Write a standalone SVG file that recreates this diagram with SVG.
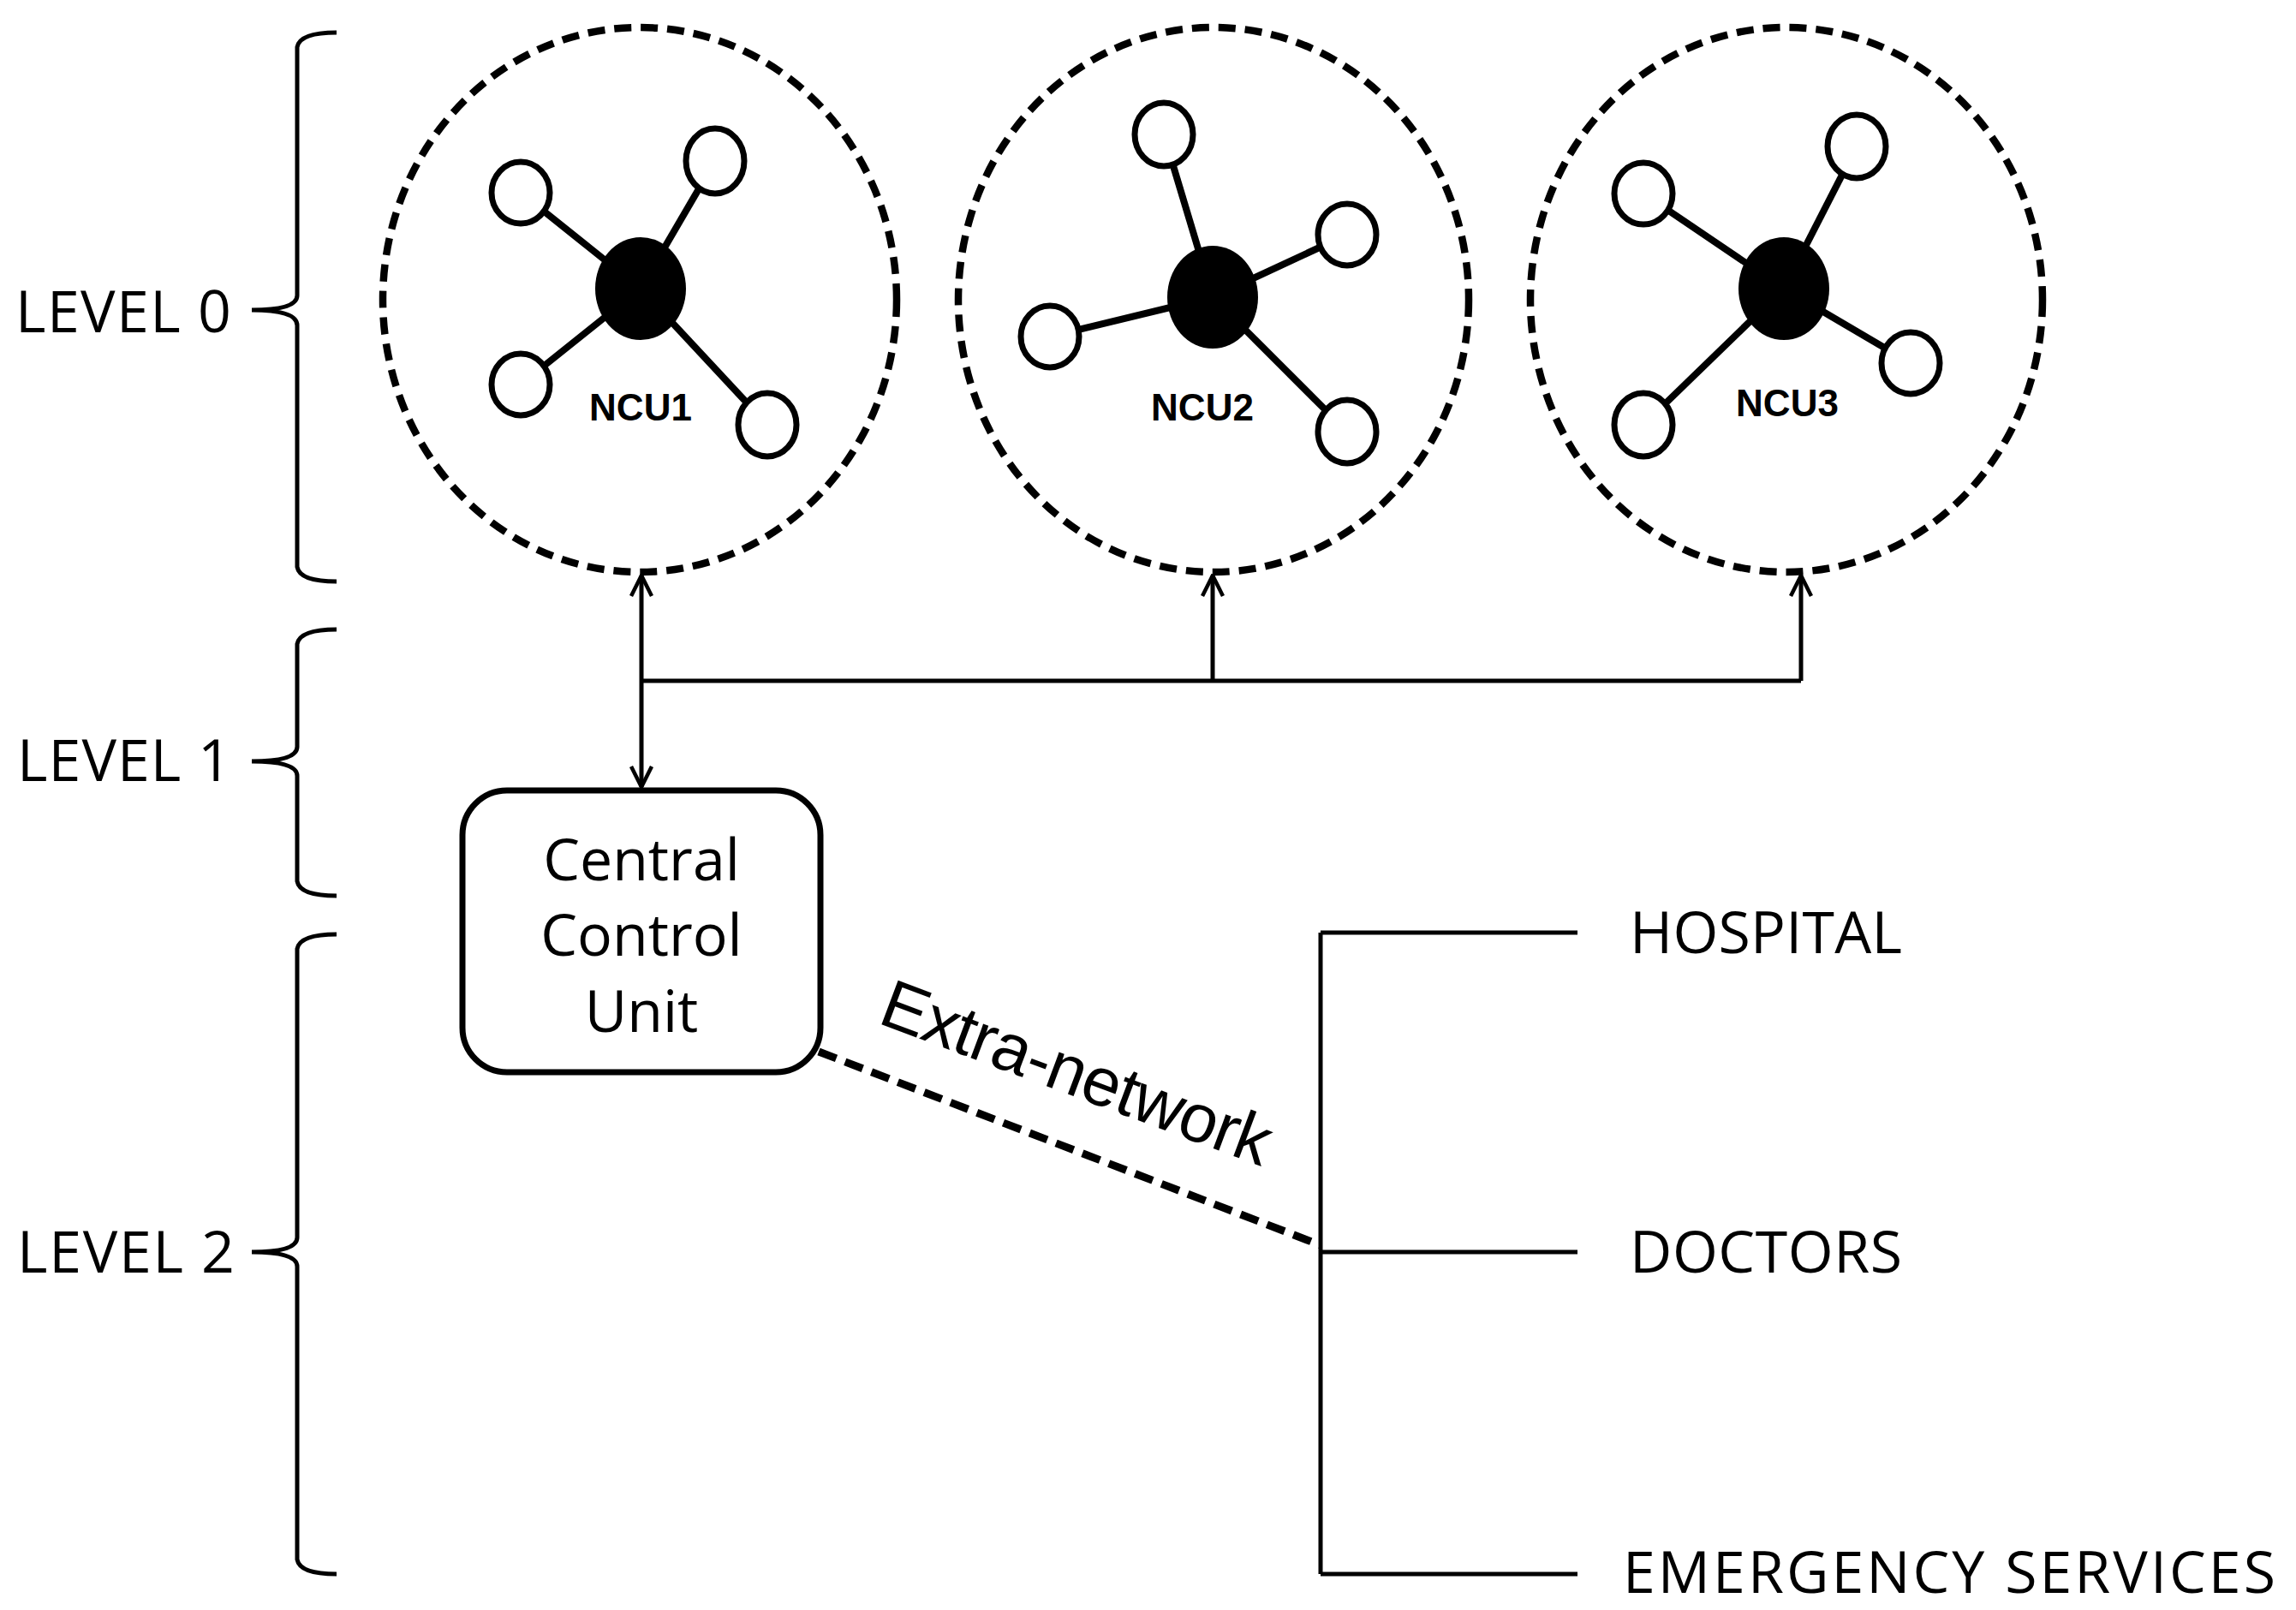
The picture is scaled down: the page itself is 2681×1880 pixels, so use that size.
<svg xmlns="http://www.w3.org/2000/svg" width="2681" height="1880" viewBox="0 0 2681 1880">
<style>
.cl{fill:none;stroke:#000;stroke-width:8.5;stroke-dasharray:20 11}
.sp{stroke:#000;stroke-width:8}
.sn{fill:#fff;stroke:#000;stroke-width:7}
.hub{fill:#000}
.ncu{font-family:"Liberation Sans",Arial,sans-serif;font-weight:bold;font-size:44px;text-anchor:middle}
.t{font-family:"Open Sans","Liberation Sans",sans-serif;font-size:68px}
.br{fill:none;stroke:#000;stroke-width:5}
.ln{fill:none;stroke:#000;stroke-width:5}
</style>
<defs>
<marker id="ah" viewBox="0 0 28 28" refX="26" refY="14" markerWidth="28" markerHeight="28" markerUnits="userSpaceOnUse" orient="auto-start-reverse">
<path d="M2,2 L26,14 L2,26" fill="none" stroke="#000" stroke-width="4.5"/>
</marker>
</defs>
<rect width="2681" height="1880" fill="#fff"/>
<g id="levels">
<path class="br" d="M393,38 Q350,38 347,55 L347,345 Q347,362 294,362 Q347,362 347,380 L347,662 Q350,679 393,679"/>
<path class="br" d="M393,735 Q350,735 347,752 L347,872 Q347,889 294,889 Q347,889 347,906 L347,1029 Q350,1046 393,1046"/>
<path class="br" d="M393,1091 Q350,1091 347,1108 L347,1445 Q347,1462 294,1462 Q347,1462 347,1479 L347,1821 Q350,1838 393,1838"/>
<text class="t" x="18" y="388" textLength="252">LEVEL 0</text>
<text class="t" x="20" y="912" textLength="250">LEVEL 1</text>
<text class="t" x="20" y="1486" textLength="254">LEVEL 2</text>
</g>
<g id="ncu1">
<ellipse class="cl" cx="747" cy="350" rx="300" ry="318"/>
<line class="sp" x1="748" y1="337" x2="835" y2="188"/><line class="sp" x1="748" y1="337" x2="608" y2="225"/>
<line class="sp" x1="748" y1="337" x2="608" y2="449"/><line class="sp" x1="748" y1="337" x2="896" y2="496"/>
<ellipse class="hub" cx="748" cy="337" rx="53" ry="60"/>
<ellipse class="sn" cx="835" cy="188" rx="34" ry="38"/><ellipse class="sn" cx="608" cy="225" rx="34" ry="36"/>
<ellipse class="sn" cx="608" cy="449" rx="34" ry="36"/><ellipse class="sn" cx="896" cy="496" rx="34" ry="37"/>
<text class="ncu" x="748" y="491">NCU1</text>
</g>
<g id="ncu2">
<ellipse class="cl" cx="1417" cy="350" rx="298" ry="318"/>
<line class="sp" x1="1416" y1="347" x2="1359" y2="157"/><line class="sp" x1="1416" y1="347" x2="1573" y2="274"/>
<line class="sp" x1="1416" y1="347" x2="1226" y2="393"/><line class="sp" x1="1416" y1="347" x2="1573" y2="504"/>
<ellipse class="hub" cx="1416" cy="347" rx="53" ry="60"/>
<ellipse class="sn" cx="1359" cy="157" rx="34" ry="37"/><ellipse class="sn" cx="1573" cy="274" rx="34" ry="36"/>
<ellipse class="sn" cx="1226" cy="393" rx="34" ry="36"/><ellipse class="sn" cx="1573" cy="504" rx="34" ry="37"/>
<text class="ncu" x="1404" y="491">NCU2</text>
</g>
<g id="ncu3">
<ellipse class="cl" cx="2086" cy="350" rx="299" ry="318"/>
<line class="sp" x1="2083" y1="337" x2="1919" y2="226"/><line class="sp" x1="2083" y1="337" x2="2168" y2="171"/>
<line class="sp" x1="2083" y1="337" x2="2231" y2="424"/><line class="sp" x1="2083" y1="337" x2="1919" y2="496"/>
<ellipse class="hub" cx="2083" cy="337" rx="53" ry="60"/>
<ellipse class="sn" cx="1919" cy="226" rx="34" ry="36"/><ellipse class="sn" cx="2168" cy="171" rx="34" ry="37"/>
<ellipse class="sn" cx="2231" cy="424" rx="34" ry="36"/><ellipse class="sn" cx="1919" cy="496" rx="34" ry="37"/>
<text class="ncu" x="2087" y="486">NCU3</text>
</g>
<g id="ccu">
<rect x="540" y="923" width="418" height="329" rx="52" fill="#fff" stroke="#000" stroke-width="7"/>
<text class="t" x="749" y="1028" text-anchor="middle">Central</text>
<text class="t" x="749" y="1116" text-anchor="middle">Control</text>
<text class="t" x="749" y="1205" text-anchor="middle">Unit</text>
</g>
<g id="dest">
<text class="t" x="1903" y="1113" textLength="318">HOSPITAL</text>
<text class="t" x="1903" y="1486" textLength="318">DOCTORS</text>
<text class="t" x="1895" y="1860" textLength="762">EMERGENCY SERVICES</text>
</g>
<g id="connectors">
<line class="ln" x1="749" y1="672" x2="749" y2="919" marker-start="url(#ah)" marker-end="url(#ah)"/>
<line class="ln" x1="749" y1="795" x2="2103" y2="795"/>
<line class="ln" x1="1416" y1="795" x2="1416" y2="672" marker-end="url(#ah)"/>
<line class="ln" x1="2103" y1="795" x2="2103" y2="672" marker-end="url(#ah)"/>
<line class="ln" x1="1542" y1="1089" x2="1542" y2="1838"/>
<line class="ln" x1="1542" y1="1089" x2="1842" y2="1089"/>
<line class="ln" x1="1542" y1="1462" x2="1842" y2="1462"/>
<line class="ln" x1="1542" y1="1838" x2="1842" y2="1838"/>
<line x1="956" y1="1228" x2="1542" y2="1454" stroke="#000" stroke-width="9" stroke-dasharray="22 11"/>
<text x="0" y="0" font-family="'Liberation Sans',Arial,sans-serif" font-size="80" text-anchor="middle" textLength="480" transform="translate(1248,1278) rotate(20.5)">Extra-network</text>
</g>
</svg>
